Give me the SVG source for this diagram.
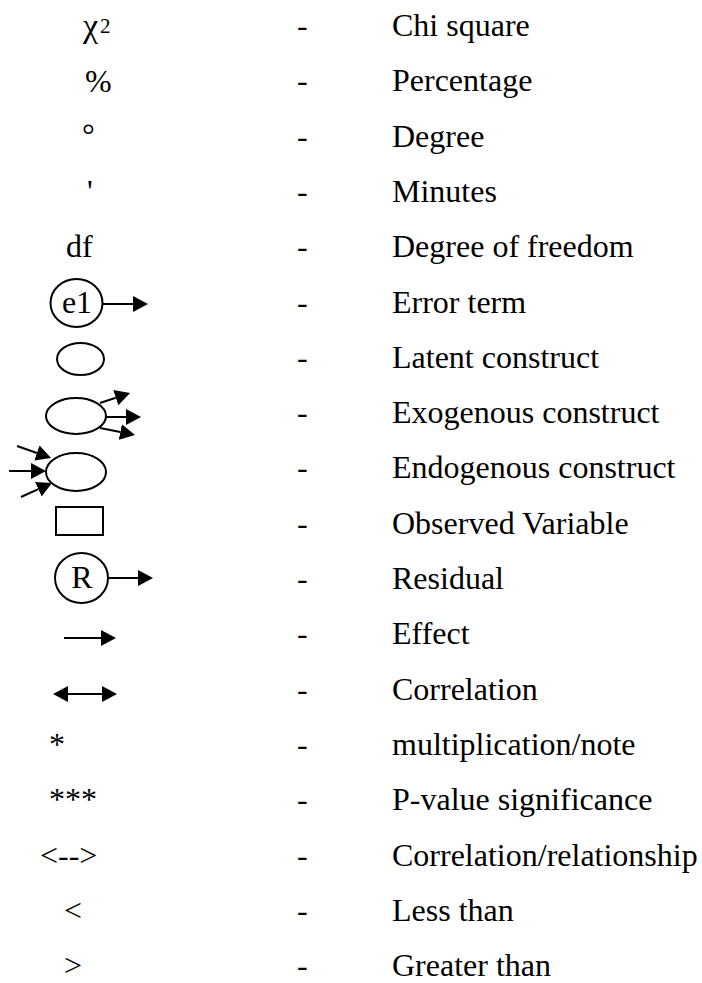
<svg xmlns="http://www.w3.org/2000/svg" width="702" height="983" viewBox="0 0 702 983">
<style>
text{font-size:32px;fill:#000}
.sh{fill:#fff;stroke:#000;stroke-width:2}
.ln{fill:none;stroke:#000;stroke-width:2}
.ar{marker-end:url(#ah)}
.mid{text-anchor:middle}
</style>
<defs>
<marker id="ah" viewBox="0 0 15 16" refX="0" refY="8" markerWidth="15" markerHeight="16" markerUnits="userSpaceOnUse" orient="auto">
<path d="M0,0 L15,8 L0,16 Z" fill="#000"/>
</marker>
<marker id="ahs" viewBox="0 0 15 16" refX="0" refY="8" markerWidth="15" markerHeight="16" markerUnits="userSpaceOnUse" orient="auto-start-reverse">
<path d="M0,0 L15,8 L0,16 Z" fill="#000"/>
</marker>
</defs>
<g font-family="Liberation Serif, Tinos, Times New Roman, DejaVu Serif, serif">
<g id="labels">
<g id="dashes">
<text x="297" y="36">-</text>
<text x="297" y="91.3">-</text>
<text x="297" y="146.6">-</text>
<text x="297" y="201.9">-</text>
<text x="297" y="257.2">-</text>
<text x="297" y="312.5">-</text>
<text x="297" y="367.8">-</text>
<text x="297" y="423.1">-</text>
<text x="297" y="478.4">-</text>
<text x="297" y="533.7">-</text>
<text x="297" y="589">-</text>
<text x="297" y="644.3">-</text>
<text x="297" y="699.6">-</text>
<text x="297" y="754.9">-</text>
<text x="297" y="810.2">-</text>
<text x="297" y="865.5">-</text>
<text x="297" y="920.8">-</text>
<text x="297" y="976.1">-</text>
</g>
<g id="meanings">
<text x="392" y="36">Chi square</text>
<text x="392" y="91.3">Percentage</text>
<text x="392" y="146.6">Degree</text>
<text x="392" y="201.9">Minutes</text>
<text x="392" y="257.2">Degree of freedom</text>
<text x="392" y="312.5">Error term</text>
<text x="392" y="367.8">Latent construct</text>
<text x="392" y="423.1">Exogenous construct</text>
<text x="392" y="478.4">Endogenous construct</text>
<text x="392" y="533.7">Observed Variable</text>
<text x="392" y="589">Residual</text>
<text x="392" y="644.3">Effect</text>
<text x="392" y="699.6">Correlation</text>
<text x="392" y="754.9">multiplication/note</text>
<text x="392" y="810.2">P-value significance</text>
<text x="392" y="865.5">Correlation/relationship</text>
<text x="392" y="920.8">Less than</text>
<text x="392" y="976.1">Greater than</text>
</g>
</g>
<g id="sym-chi"><text x="83" y="37" style="font-size:34px">χ</text><text x="100" y="33" style="font-size:21px">2</text></g>
<g id="sym-percent"><text x="85" y="92">%</text></g>
<g id="sym-degree"><text x="82" y="146">°</text></g>
<g id="sym-minutes"><text x="87" y="202">'</text></g>
<g id="sym-df"><text x="66" y="257">df</text></g>
<g id="sym-e1">
<ellipse class="sh" cx="76.5" cy="303" rx="26" ry="24"/>
<text class="mid" x="77" y="313">e1</text>
</g>
<g id="sym-latent"><ellipse class="sh" cx="80.5" cy="359" rx="23.5" ry="16"/></g>
<g id="sym-exogenous"><ellipse class="sh" cx="76" cy="416" rx="30" ry="18"/></g>
<g id="sym-endogenous"><ellipse class="sh" cx="76" cy="472" rx="30" ry="19"/></g>
<g id="sym-observed"><rect class="sh" x="56" y="507" width="47" height="28"/></g>
<g id="sym-residual">
<ellipse class="sh" cx="81.5" cy="578" rx="26.5" ry="25"/>
<text class="mid" x="82" y="588">R</text>
</g>
<g id="sym-asterisk"><text x="49" y="755">*</text></g>
<g id="sym-asterisks"><text x="49" y="810">***</text></g>
<g id="sym-dashed-arrow"><text x="40" y="866">&lt;--&gt;</text></g>
<g id="sym-less"><text x="64" y="921">&lt;</text></g>
<g id="sym-greater"><text x="64" y="976">&gt;</text></g>
</g>
<g id="connectors">
<path class="ln ar" d="M102.5,304 H133"/>
<path class="ln ar" d="M100,403 L115.8,397.7"/>
<path class="ln ar" d="M106,417 H126"/>
<path class="ln ar" d="M100,428 L120.3,432.1"/>
<path class="ln ar" d="M17,446 L36.9,453"/>
<path class="ln ar" d="M9,471 H31"/>
<path class="ln ar" d="M21,497 L38.3,489.2"/>
<path class="ln ar" d="M108,578 H138"/>
<path class="ln ar" d="M64,638 H101"/>
<path class="ln" d="M68,694 H102" marker-start="url(#ahs)" marker-end="url(#ah)"/>
</g>
</svg>
